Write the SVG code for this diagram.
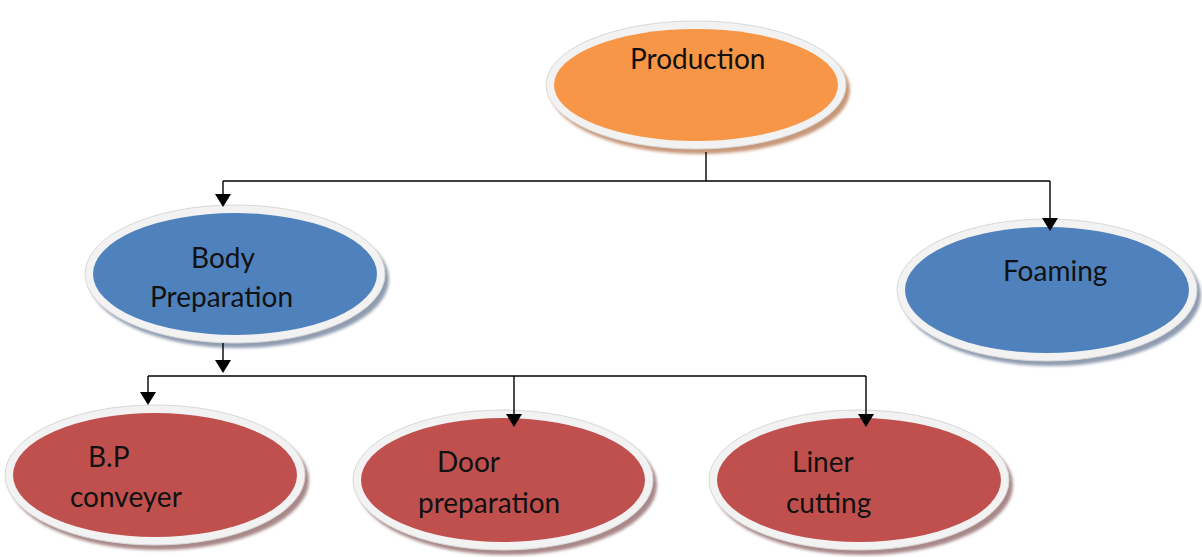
<svg xmlns="http://www.w3.org/2000/svg" width="1202" height="557" viewBox="0 0 1202 557">
<style>
.rim{fill:#f2f2f2;stroke:#d8d8d8;stroke-width:1}
.lbl{font-family:Lato,"Open Sans",sans-serif;font-size:28px;fill:#111}
.con{fill:none;stroke:#000;stroke-width:1.4}
.ah{fill:#000}
.or{fill:#F79646}.bl{fill:#4F81BD}.rd{fill:#C0504D}
</style>
<defs>
<filter id="sh" x="-10%" y="-10%" width="120%" height="130%"><feGaussianBlur stdDeviation="1.5"/></filter>
</defs>
<g id="production">
<ellipse cx="700" cy="90" rx="150" ry="64" fill="#c8987a" filter="url(#sh)"/>
<ellipse class="rim" cx="696" cy="85" rx="150" ry="64"/>
<ellipse class="or" cx="696" cy="85" rx="142" ry="56"/>
<text class="lbl" x="630" y="69">Production</text>
</g>
<g id="body-preparation">
<ellipse cx="239" cy="279" rx="150" ry="69" fill="#909cb0" filter="url(#sh)"/>
<ellipse class="rim" cx="235" cy="274" rx="150" ry="69"/>
<ellipse class="bl" cx="235" cy="274" rx="142" ry="61"/>
<text class="lbl" x="191" y="268">Body</text>
<text class="lbl" x="150" y="307">Preparation</text>
</g>
<g id="foaming">
<ellipse cx="1051" cy="295" rx="150" ry="71" fill="#909cb0" filter="url(#sh)"/>
<ellipse class="rim" cx="1047" cy="290" rx="150" ry="71"/>
<ellipse class="bl" cx="1047" cy="290" rx="142" ry="63"/>
<text class="lbl" x="1003" y="281">Foaming</text>
</g>
<g id="bp-conveyer">
<ellipse cx="159" cy="480" rx="150" ry="70" fill="#a88888" filter="url(#sh)"/>
<ellipse class="rim" cx="155" cy="475" rx="150" ry="70"/>
<ellipse class="rd" cx="155" cy="475" rx="142" ry="62"/>
<text class="lbl" x="88" y="467">B.P</text>
<text class="lbl" x="70" y="507">conveyer</text>
</g>
<g id="door-preparation">
<ellipse cx="507" cy="485" rx="150" ry="70" fill="#a88888" filter="url(#sh)"/>
<ellipse class="rim" cx="503" cy="480" rx="150" ry="70"/>
<ellipse class="rd" cx="503" cy="480" rx="142" ry="62"/>
<text class="lbl" x="437" y="472">Door</text>
<text class="lbl" x="418" y="513">preparation</text>
</g>
<g id="liner-cutting">
<ellipse cx="863" cy="485" rx="150" ry="70" fill="#a88888" filter="url(#sh)"/>
<ellipse class="rim" cx="859" cy="480" rx="150" ry="70"/>
<ellipse class="rd" cx="859" cy="480" rx="142" ry="62"/>
<text class="lbl" x="792" y="472">Liner</text>
<text class="lbl" x="786" y="513">cutting</text>
</g>
<g id="connectors">
<path class="con" d="M706,152 V181"/>
<path class="con" d="M223,181 H1050"/>
<path class="con" d="M223,181 V194"/>
<path class="con" d="M1050,181 V218"/>
<path class="con" d="M223,343 V360"/>
<path class="con" d="M148,376 H866"/>
<path class="con" d="M148,376 V392"/>
<path class="con" d="M514,376 V414"/>
<path class="con" d="M866,376 V414"/>
<path class="ah" d="M215,194 L231,194 L223,207 Z"/>
<path class="ah" d="M1042,218 L1058,218 L1050,231 Z"/>
<path class="ah" d="M215,360 L231,360 L223,373 Z"/>
<path class="ah" d="M140,392 L156,392 L148,405 Z"/>
<path class="ah" d="M506,414 L522,414 L514,427 Z"/>
<path class="ah" d="M858,414 L874,414 L866,427 Z"/>
</g>
</svg>
